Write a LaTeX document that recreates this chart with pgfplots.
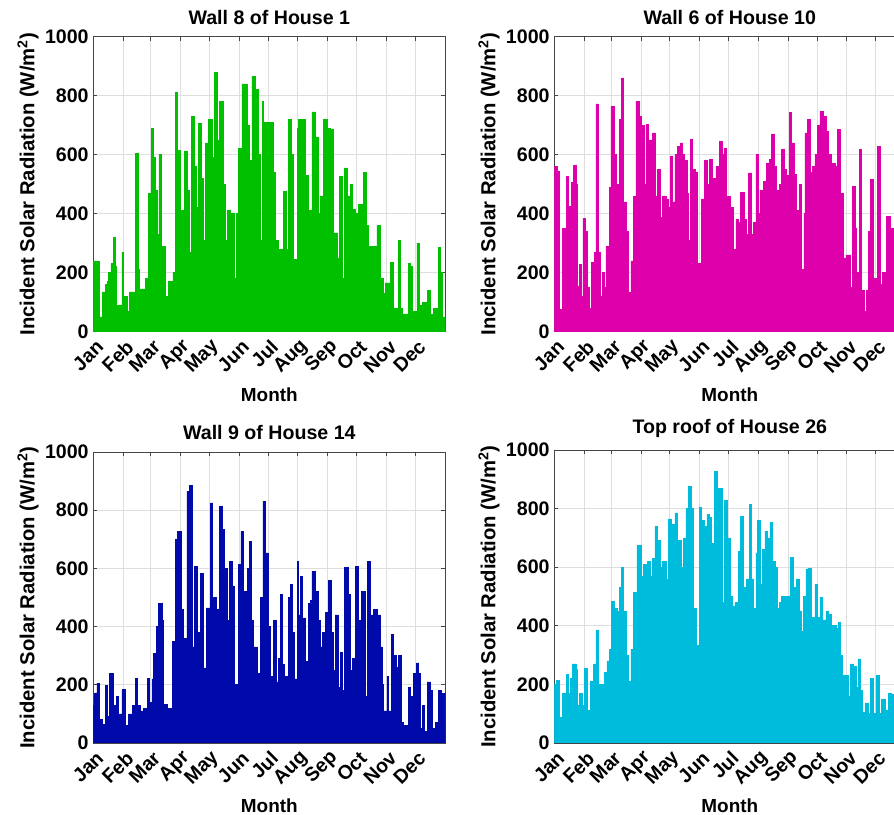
\documentclass[border=0pt]{standalone}
\usepackage{fontspec}
\setmainfont{Liberation Sans}
\usepackage{pgfplots}
\usepackage{pgfplotstable}
\pgfplotsset{compat=1.18}
\definecolor{cgreen}{RGB}{0,192,0}
\definecolor{cmag}{RGB}{222,0,170}
\definecolor{cblue}{RGB}{0,10,170}
\definecolor{ccyan}{RGB}{0,188,220}
\definecolor{axcol}{RGB}{70,70,70}

% day-of-year, daily peak radiation (W/m^2)
\pgfplotstableread{
x y
0 240
6 50
9 135
12.5 160
14.5 170
16 200
18.3 230
20.4 320
22.5 220
24 90
29.7 270
31.5 120
35 70
37.7 135
44 605
46.3 210
48 145
54 180
57.4 470
59.8 690
62.6 590
64.5 480
66.3 330
68 600
71 290
74.7 120
78 170
82.6 200
85 810
87.5 615
90 410
94.7 610
97 480
99.5 270
101.3 730
104.7 560
106.8 420
109 705
112 520
113.7 310
116 640
119.6 720
123 590
125.5 880
128.2 650
131 780
134.5 500
137 310
138.7 410
142 400
146 180
148 400
150.7 620
154 840
159.3 700
162 580
164.5 865
168 820
171 600
172.7 310
175 780
176.6 710
186.9 540
188.5 310
192 280
197.4 475
199.8 280
202.5 720
205.3 600
207.7 245
211.2 690
213 720
220 530
222.6 410
226.7 745
230.2 660
233.6 400
235.4 460
238.8 720
242.3 690
245.7 685
249.2 335
252.7 250
255 525
257.8 180
260.6 555
263 460
266.5 500
268.9 415
271.7 400
275 430
280.3 540
282.7 360
285.5 290
294 360
297.6 180
301 130
302.8 165
308 235
311.4 80
316 310
318.3 80
320 60
326.3 230
328.7 220
330.4 70
335.6 300
338 90
340.8 100
346.7 140
349.4 60
352.9 80
357.4 285
359.8 200
362.2 50
365 50
}\tA

\pgfplotstableread{
x y
0 560
2.8 545
5.2 76
8.7 350
12.2 527
14.6 425
16.7 360
18.0 505
20.1 564
22.6 500
24.3 155
26.0 228
28.5 120
29.8 383
31.9 340
34.0 150
36.4 80
38.8 234
41.6 270
43.3 772
45.8 270
47.9 121
50.3 200
52.0 150
53.7 290
57.2 488
58.9 764
62.4 600
64.1 500
67.6 719
70.0 860
72.1 440
74.5 340
77.0 132
79.7 240
82.5 459
84.9 781
88.4 730
90.8 700
93.6 500
95.3 702
97.7 650
100.5 630
102.2 674
104.7 460
107.5 550
110.2 386
112.6 460
116.1 450
118.5 420
120.6 593
123.0 440
125.5 600
128.2 627
131.0 640
133.4 600
135.2 580
137.9 470
139.3 310
141.4 651
143.8 550
146.3 540
149.0 230
151.8 190
153.2 450
156.0 580
158.7 500
161.2 585
164.6 520
168.1 560
171.6 646
175.0 600
176.4 620
178.4 459
182.6 420
186.1 279
188.8 380
191.3 370
193.7 471
197.1 380
199.9 330
201.7 538
205.1 330
206.9 370
209.6 600
212.0 400
213.8 480
217.2 510
220.7 572
223.5 584
225.9 668
228.3 560
231.1 480
233.9 500
236.3 617
238.7 550
241.5 530
244.3 742
246.7 640
249.1 533
251.9 410
254.7 500
257.1 211
259.5 400
260.6 674
263.0 719
265.8 540
268.5 560
271.0 600
273.4 700
276.2 747
279.6 730
283.1 680
284.8 600
288.3 570
291.7 560
294.2 685
297.6 470
300.4 250
303.2 260
308.0 150
310.1 493
312.5 350
314.3 200
317.0 617
319.5 140
321.9 70
324.7 140
326.4 340
328.8 516
331.6 180
334.4 90
335.8 629
338.5 160
341.3 200
343.7 40
345.5 392
348.9 350
353.1 350
356 300
360 250
365 250
}\tB

\pgfplotstableread{
x y
0 130
1.0 172
3.8 206
6.6 80
9.0 63
12.5 198
14.2 90
17.0 238
20.4 130
23.9 160
26.3 100
29.7 183
33.2 60
36.6 100
40.1 130
43.6 221
46.0 130
48.7 110
52.2 120
55.7 221
58.4 140
60.8 220
62.6 309
65.3 400
67.7 480
71.2 420
72.9 132
76.4 120
81.6 349
85.0 699
87.5 727
90.9 460
93.7 360
97.1 865
99.5 885
102.3 330
104.7 607
108.2 380
111.0 584
114.4 258
117.2 464
121.3 825
123.7 500
127.5 240
128.9 460
131.0 813
133.4 733
135.8 600
138.6 420
141.4 624
143.8 540
146.2 200
149.0 150
150.7 613
153.1 727
155.9 520
158.6 230
160.0 600
161.5 693
163.5 420
166.2 330
169.7 240
173.2 500
175.9 830
178.3 653
181.8 400
183.5 230
187.0 420
189.4 210
192.2 290
193.9 510
196.3 270
198.4 230
201.9 500
204.3 544
206.7 380
208.8 220
211.2 624
212.9 440
214.6 573
217.1 430
219.8 280
222.6 480
225.0 490
226.7 590
230.2 520
233.0 420
235.4 330
237.8 380
240.6 450
242.6 270
244.0 558
246.8 380
249.2 250
250.9 440
253.7 190
256.1 310
258.5 180
260.6 604
264.8 510
266.8 250
268.9 290
271.7 607
275.1 420
277.9 521
282.0 160
283.8 624
287.2 440
290.7 460
294.1 440
297.6 330
299.3 200
301.0 110
304.5 230
306.2 110
309.0 372
311.4 300
313.8 260
316.6 301
319.4 70
321.8 60
326.3 190
328.7 160
332.1 240
334.6 275
337.3 240
339.1 50
341.5 130
343.5 40
346.0 210
349.4 180
351.8 50
354.6 70
357.4 180
360.8 170
365 170
}\tC

\pgfplotstableread{
x y
0 200
1.8 213
5.2 88
8.7 168
12.2 235
14.6 170
16.7 220
19.1 270
22.6 250
24.3 130
26.0 170
29.5 130
31.2 255
34.7 110
37.5 210
40.9 270
43.3 386
45.8 200
52.0 240
54.8 280
57.2 320
59.6 482
62.4 460
65.2 450
67.6 530
70.0 598
72.1 450
74.5 300
77.0 210
79.7 320
82.5 513
86.0 674
90.1 570
92.9 609
97.0 620
99.8 570
102.2 630
104.7 740
107.5 690
110.2 600
112.6 620
116.1 560
118.5 765
121.3 480
123.0 745
125.5 785
128.2 690
131.7 600
134.5 700
136.9 802
139.3 876
142.1 800
144.9 460
147.3 332
150.8 806
153.2 760
156.0 740
158.7 780
161.2 770
163.6 680
166.3 927
169.8 870
175.0 480
177.0 828
179.8 700
182.6 500
185.4 468
187.8 480
191.3 655
193.7 774
196.5 530
199.9 560
202.7 813
205.1 560
206.9 460
209.6 649
211.4 760
213.8 540
216.5 660
219.0 723
221.4 700
224.2 753
227.0 620
229.4 600
231.8 460
233.9 480
236.3 500
239.8 500
245.0 632
248.4 530
251.9 560
254.7 451
257.1 380
258.8 500
261.6 593
264.0 595
267.5 430
271.0 542
273.4 430
276.2 496
278.9 420
282.4 450
284.8 440
287.6 400
292.8 390
295.2 411
297.6 300
299.7 230
303.2 230
305.6 160
308.0 270
310.8 260
313.6 190
316.0 287
318.4 180
320.5 105
322.9 134
326.4 100
328.8 219
331.6 100
334.4 230
337.8 100
340.3 150
343.7 110
347.2 168
350.7 165
354 130
358 160
362 150
365 150
}\tD

\pgfplotsset{
  panel/.style={
    scale only axis,
    anchor=south west,
    xmin=0, xmax=365, ymin=0, ymax=1000,
    xtick={0,31,59,90,120,151,181,212,243,273,304,334},
    xticklabels={Jan,Feb,Mar,Apr,May,Jun,Jul,Aug,Sep,Oct,Nov,Dec},
    ytick={0,200,400,600,800,1000},
    grid=major,
    major grid style={draw=black!13, line width=0.5pt},
    tick align=inside,
    major tick length=3pt,
    tick style={draw=axcol, line width=0.5pt},
    axis line style={draw=axcol, line width=0.6pt},
    /pgf/number format/assume math mode=true,
    /pgf/number format/1000 sep={},
    yticklabel style={font=\fontsize{14.7}{17}\selectfont\bfseries},
    xticklabel style={font=\fontsize{14.7}{17}\selectfont\bfseries, xshift=7.5pt, yshift=-6.5pt, rotate=45, anchor=east},
    title style={font=\fontsize{14.7}{17}\selectfont\bfseries, at={(axis description cs:0.5,1)}, anchor=south, yshift=-0.5pt},
    xlabel={Month},
    ylabel={Incident Solar Radiation (W/m\textsuperscript{2})},
    xlabel style={font=\fontsize{14.2}{17}\selectfont\bfseries, at={([yshift=-47pt]axis description cs:0.5,0)}, anchor=center},
    ylabel style={font=\fontsize{15.2}{18}\selectfont\bfseries, at={([xshift=-49pt]axis description cs:0,0.5)}, anchor=center},
  },
  area/.style={const plot mark left, draw=#1, fill=#1, line width=0.5pt, mark=none},
}

\begin{document}
\begin{tikzpicture}
\path[use as bounding box] (0,0) rectangle (670.5pt,611.25pt);

\begin{axis}[panel, at={(70pt,362.5pt)}, width=264pt, height=221.25pt, title={Wall 8 of House 1}]
\addplot[area=cgreen] table[x=x,y=y] {\tA} \closedcycle;
\end{axis}

\begin{axis}[panel, at={(415.7pt,362.5pt)}, width=263.3pt, height=221.25pt, title={Wall 6 of House 10}]
\addplot[area=cmag] table[x=x,y=y] {\tB} \closedcycle;
\end{axis}

\begin{axis}[panel, at={(70pt,54pt)}, width=264pt, height=218.25pt, title={Wall 9 of House 14}]
\addplot[area=cblue] table[x=x,y=y] {\tC} \closedcycle;
\end{axis}

\begin{axis}[panel, at={(415.7pt,54pt)}, width=263.3pt, height=219.75pt, title={Top roof of House 26}]
\addplot[area=ccyan] table[x=x,y=y] {\tD} \closedcycle;
\end{axis}
\end{tikzpicture}
\end{document}
